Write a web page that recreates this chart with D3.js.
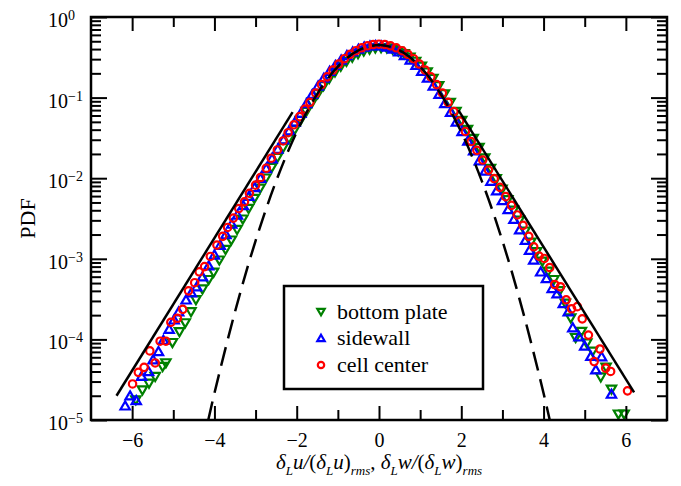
<!DOCTYPE html>
<html>
<head>
<meta charset="utf-8">
<script src="https://cdn.jsdelivr.net/npm/d3@7"></script>
<style>
  html, body { margin: 0; padding: 0; background: #fff; }
  svg text { font-family: "Liberation Serif", serif; }
</style>
</head>
<body>
<svg id="chart" width="681" height="486"></svg>
<script>
// PDF of longitudinal velocity increments, three measuring positions

// bottom plate (green, down triangles)
const bottomX = [-5.91, -5.75, -5.59, -5.44, -5.26, -5.18, -5.02, -4.85, -4.71, -4.57, -4.45, -4.29, -4.14, -4.02, -3.88, -3.73,
  -3.59, -3.45, -3.31, -3.17, -3.03, -2.89, -2.75, -2.61, -2.47, -2.33, -2.19, -2.05, -1.91, -1.77,
  -1.63, -1.49, -1.35, -1.21, -1.07, -0.93, -0.79, -0.65, -0.51, -0.37, -0.23, -0.09, 0.05,
  0.19, 0.33, 0.47, 0.61, 0.75, 0.89, 1.03, 1.17, 1.31, 1.45, 1.59, 1.73,
  1.87, 2.01, 2.15, 2.29, 2.43, 2.57, 2.71, 2.85, 2.99, 3.13, 3.27, 3.41, 3.55, 3.69, 3.83, 3.97,
  4.11, 4.25, 4.39, 4.53, 4.66, 4.78, 4.92, 5.05, 5.19, 5.39, 5.52, 5.65, 5.82, 5.96];
const bottomY = [1.77e-5, 2.35e-5, 2.85e-5, 3.45e-5, 4.6e-5, 5.1e-5, 9.1e-5, 1.24e-4, 1.6e-4, 2.2e-4, 3.1e-4, 4.2e-4, 5.5e-4, 6.8e-4, 9.6e-4, 1.3e-3,
  0.0017, 0.0023, 0.0031, 0.0042, 0.0056, 0.0075, 0.0100, 0.0135, 0.018, 0.024, 0.031, 0.040, 0.052, 0.067,
  0.0866, 0.111, 0.140, 0.172, 0.207, 0.244, 0.281, 0.316, 0.349, 0.376, 0.397, 0.411, 0.415,
  0.411, 0.397, 0.376, 0.349, 0.316, 0.281, 0.244, 0.207, 0.172, 0.140, 0.111, 0.0866,
  0.067, 0.052, 0.040, 0.031, 0.024, 0.0178, 0.0132, 0.0098, 0.0073, 0.0054, 0.0040, 0.0030, 0.0022, 0.0016, 0.00122, 9.3e-4,
  7.0e-4, 5.5e-4, 4.0e-4, 2.8e-4, 1.84e-4, 1.05e-4, 1.25e-4, 9.0e-5, 7.1e-5, 3.4e-5, 4.5e-5, 2.4e-5, 1.18e-5, 1.18e-5];

// sidewall (blue, up triangles)
const sideX = [-6.17, -6.05, -5.90, -5.77, -5.60, -5.49, -5.36, -5.24, -5.10, -4.98, -4.87, -4.69, -4.56, -4.43, -4.29,
  -4.14, -4.00, -3.86, -3.72, -3.58, -3.44, -3.30, -3.16, -3.02, -2.88, -2.74, -2.60, -2.46, -2.32, -2.18, -2.04, -1.90,
  -1.76, -1.62, -1.48, -1.34, -1.20, -1.06, -0.92, -0.78, -0.64, -0.50, -0.36, -0.22, -0.08,
  0.06, 0.20, 0.34, 0.48, 0.62, 0.76, 0.90, 1.04, 1.18, 1.32, 1.46, 1.60,
  1.74, 1.88, 2.02, 2.16, 2.30, 2.44, 2.58, 2.72, 2.86, 3.00, 3.14, 3.28, 3.42, 3.56, 3.66,
  3.76, 3.93, 4.07, 4.21, 4.33, 4.48, 4.60, 4.71, 4.86, 5.00, 5.15, 5.27, 5.41, 5.65];
const sideY = [1.5e-5, 2.0e-5, 1.75e-5, 3.5e-5, 4.0e-5, 5.6e-5, 7.1e-5, 9.8e-5, 1.34e-4, 1.75e-4, 2.2e-4, 3.1e-4, 3.8e-4, 4.5e-4, 6.0e-4,
  8.2e-4, 0.00112, 0.00148, 0.0020, 0.0027, 0.0035, 0.0046, 0.0060, 0.0077, 0.0100, 0.0132, 0.0175, 0.023, 0.030, 0.039, 0.050, 0.064,
  0.0846, 0.110, 0.140, 0.175, 0.213, 0.252, 0.294, 0.334, 0.370, 0.401, 0.425, 0.440, 0.445,
  0.440, 0.425, 0.401, 0.370, 0.334, 0.294, 0.252, 0.213, 0.175, 0.140, 0.110, 0.0846,
  0.066, 0.050, 0.038, 0.029, 0.022, 0.0165, 0.0123, 0.0092, 0.0070, 0.0053, 0.0041, 0.0031, 0.0023, 0.0017, 0.00128,
  9.7e-4, 6.9e-4, 5.7e-4, 4.3e-4, 3.7e-4, 2.8e-4, 2.2e-4, 1.4e-4, 1.08e-4, 8.3e-5, 6.2e-5, 4.2e-5, 6.1e-5, 2.1e-5];

// cell center (red, circles)
const centerX = [-5.99, -5.85, -5.71, -5.57, -5.44, -5.32, -5.18, -5.06, -4.90, -4.77, -4.63, -4.48, -4.37, -4.24,
  -4.10, -3.94, -3.80, -3.68, -3.54, -3.41, -3.27, -3.15, -3.00, -2.88, -2.74, -2.62, -2.47, -2.33, -2.21, -2.07, -1.93, -1.80,
  -1.68, -1.54, -1.40, -1.26, -1.12, -0.98, -0.84, -0.70, -0.56, -0.42, -0.28, -0.14, 0,
  0.14, 0.28, 0.42, 0.56, 0.70, 0.84, 0.98, 1.12, 1.26, 1.40, 1.54, 1.68,
  1.82, 1.96, 2.10, 2.24, 2.38, 2.52, 2.66, 2.80, 2.94, 3.08, 3.22, 3.36, 3.50, 3.64, 3.76,
  3.89, 4.02, 4.15, 4.27, 4.41, 4.55, 4.68, 4.82, 4.94, 5.09, 5.23, 5.37, 5.51, 5.63, 6.04];
const centerY = [2.8e-5, 3.9e-5, 4.5e-5, 7.2e-5, 5.1e-5, 9.5e-5, 9.5e-5, 1.63e-4, 1.83e-4, 2.36e-4, 4.0e-4, 5.05e-4, 6.9e-4, 8.0e-4,
  0.00107, 0.00148, 0.0019, 0.00245, 0.0032, 0.0042, 0.0051, 0.0065, 0.0082, 0.0102, 0.0133, 0.0177, 0.0224, 0.029, 0.0367, 0.046, 0.058, 0.072,
  0.0875, 0.114, 0.145, 0.181, 0.220, 0.261, 0.304, 0.345, 0.382, 0.415, 0.439, 0.455, 0.46,
  0.455, 0.439, 0.415, 0.382, 0.345, 0.304, 0.261, 0.220, 0.181, 0.145, 0.114, 0.0875,
  0.067, 0.051, 0.038, 0.0285, 0.0222, 0.0168, 0.0126, 0.0099, 0.0077, 0.0059, 0.0046, 0.0035, 0.0026, 0.0019, 0.00141,
  0.00108, 0.00101, 7.8e-4, 4.8e-4, 4.5e-4, 3.1e-4, 2.4e-4, 2.55e-4, 1.8e-4, 1.13e-4, 5.3e-5, 7.6e-5, 4.4e-5, 4.0e-5, 2.3e-5];

// Gaussian reference (dashed)
const gaussX = [-4.15, -4.0, -3.5, -3.0, -2.5, -2.0, -1.5, -1.0, -0.5, 0, 0.5, 1.0, 1.5, 2.0, 2.5, 3.0, 3.5, 4.0, 4.15];
const gaussY = [1.0e-5, 2.15e-5, 2.2e-4, 1.67e-3, 9.2e-3, 0.0374, 0.111, 0.242, 0.385, 0.45, 0.385, 0.242, 0.111, 0.0374, 9.2e-3, 1.67e-3, 2.2e-4, 2.15e-5, 1.0e-5];

// exponential tails (solid)
const tailLeftX = [-6.38, -2.1];
const tailLeftY = [2.0e-5, 0.066];
const tailRightX = [1.93, 6.2];
const tailRightY = [0.070, 2.2e-5];

// axes
const xTickValues = [-6, -4, -2, 0, 2, 4, 6];
const xTickLabels = ["\u22126", "\u22124", "\u22122", "0", "2", "4", "6"];
const xMinorValues = [-5, -3, -1, 1, 3, 5];
const yTickValues = [1e-5, 1e-4, 1e-3, 1e-2, 1e-1, 1];
const yTickExps = ["\u22125", "\u22124", "\u22123", "\u22122", "\u22121", "0"];

const seriesNames = ["bottom plate", "sidewall", "cell center"];
const seriesColors = ["#008000", "#0000ff", "#ff0000"];
const FONT = "Liberation Serif";

const svg = d3.select("#chart");
const margin = { top: 17, right: 14, bottom: 66, left: 91 };
const width = +svg.attr("width") - margin.left - margin.right;
const height = +svg.attr("height") - margin.top - margin.bottom;
const g = svg.append("g").attr("transform", `translate(${margin.left},${margin.top})`);

const x = d3.scaleLinear().domain([-7, 7]).range([0, width]);
const y = d3.scaleLog().domain([1e-5, 1]).range([height, 0]);
const yMinor = y.ticks().filter(v => !yTickValues.some(t => Math.abs(t - v) / t < 1e-6));

// markers
const zip = (xs, ys) => xs.map((v, i) => [v, ys[i]]);
const triUp = d3.symbol(d3.symbolTriangle, 38)();
const tri = (sel, down) => sel.append("path")
  .attr("d", triUp)
  .attr("transform", d => `translate(${x(d[0])},${y(d[1]) + (down ? -1 : 1)})${down ? " rotate(180)" : ""}`);

const gBottom = g.append("g").attr("fill", "none").attr("stroke", seriesColors[0]).attr("stroke-width", 2.2);
gBottom.selectAll("path").data(zip(bottomX, bottomY)).enter().call(s => tri(s, true));

const gSide = g.append("g").attr("fill", "none").attr("stroke", seriesColors[1]).attr("stroke-width", 2.2);
gSide.selectAll("path").data(zip(sideX, sideY)).enter().call(s => tri(s, false));

g.append("g").attr("fill", "none").attr("stroke", seriesColors[2]).attr("stroke-width", 2.2)
  .selectAll("circle").data(zip(centerX, centerY)).enter().append("circle")
  .attr("cx", d => x(d[0])).attr("cy", d => y(d[1])).attr("r", 3.7);

// reference lines
const line = d3.line().x(d => x(d[0])).y(d => y(d[1]));
g.append("defs").append("clipPath").attr("id", "plotClip")
  .append("rect").attr("width", width).attr("height", height);

g.append("path").datum(zip(gaussX, gaussY))
  .attr("clip-path", "url(#plotClip)")
  .attr("fill", "none").attr("stroke", "#000").attr("stroke-width", 2.5)
  .attr("stroke-dasharray", "19,9")
  .attr("d", line.curve(d3.curveCatmullRom));

[zip(tailLeftX, tailLeftY), zip(tailRightX, tailRightY)].forEach(t => {
  g.append("path").datum(t)
    .attr("fill", "none").attr("stroke", "#000").attr("stroke-width", 2.5)
    .attr("d", d3.line().x(d => x(d[0])).y(d => y(d[1])));
});

// axes
function styleAxis(sel) {
  sel.select(".domain").remove();
  sel.selectAll(".tick line").attr("stroke", "#000").attr("stroke-width", 2);
  sel.attr("font-family", FONT).attr("font-size", 20);
}

g.append("g").attr("transform", `translate(0,${height})`)
  .call(d3.axisBottom(x).tickValues(xTickValues).tickFormat((d, i) => xTickLabels[i])
    .tickSizeInner(-14).tickSizeOuter(0).tickPadding(13))
  .call(styleAxis)
  .selectAll("text").attr("fill", "#000").attr("font-family", FONT);
g.append("g").attr("transform", `translate(0,${height})`)
  .call(d3.axisBottom(x).tickValues(xMinorValues).tickFormat("").tickSize(-10)).call(styleAxis);
g.append("g")
  .call(d3.axisTop(x).tickValues(xTickValues).tickFormat("").tickSize(-14)).call(styleAxis);
g.append("g")
  .call(d3.axisTop(x).tickValues(xMinorValues).tickFormat("").tickSize(-10)).call(styleAxis);

g.append("g")
  .call(d3.axisLeft(y).tickValues(yTickValues).tickSize(-16))
  .call(styleAxis)
  .selectAll("text").each(function(d, i) {
    const t = d3.select(this);
    t.text(null).attr("x", -43).attr("y", 9.5).attr("dy", null)
      .attr("text-anchor", "start").attr("fill", "#000").attr("font-family", FONT);
    t.append("tspan").text("10");
    t.append("tspan").attr("dy", -7).attr("font-size", 14).text(yTickExps[i]);
  });
g.append("g")
  .call(d3.axisLeft(y).tickValues(yMinor).tickFormat("").tickSize(-10)).call(styleAxis);
g.append("g").attr("transform", `translate(${width},0)`)
  .call(d3.axisRight(y).tickValues(yTickValues).tickFormat("").tickSize(-16)).call(styleAxis);
g.append("g").attr("transform", `translate(${width},0)`)
  .call(d3.axisRight(y).tickValues(yMinor).tickFormat("").tickSize(-10)).call(styleAxis);

// frame
g.append("rect").attr("width", width).attr("height", height)
  .attr("fill", "none").attr("stroke", "#000").attr("stroke-width", 2.5);

// axis titles
svg.append("text")
  .attr("transform", `translate(27,${margin.top + height / 2}) rotate(-90)`)
  .attr("text-anchor", "middle").attr("dy", "0.35em")
  .attr("font-family", FONT).attr("font-size", 22).text("PDF");

const xl = svg.append("text")
  .attr("x", margin.left + width / 2).attr("y", 469)
  .attr("text-anchor", "middle").attr("font-family", FONT).attr("font-size", 21);
function deltaL(v) {
  xl.append("tspan").attr("font-style", "italic").text("\u03b4");
  xl.append("tspan").attr("font-style", "italic").attr("font-size", 13).attr("dy", 6).text("L");
  xl.append("tspan").attr("font-style", "italic").attr("dy", -6).text(v);
}
deltaL("u");
xl.append("tspan").attr("font-style", "italic").text("/");
xl.append("tspan").text("(");
deltaL("u");
xl.append("tspan").text(")");
xl.append("tspan").attr("font-style", "italic").attr("font-size", 13).attr("dy", 6).text("rms");
xl.append("tspan").attr("dy", -6).text(", ");
deltaL("w");
xl.append("tspan").attr("font-style", "italic").text("/");
xl.append("tspan").text("(");
deltaL("w");
xl.append("tspan").text(")");
xl.append("tspan").attr("font-style", "italic").attr("font-size", 13).attr("dy", 6).text("rms");

// legend
const lg = svg.append("g").attr("transform", "translate(284,286)");
lg.append("rect").attr("width", 199).attr("height", 103)
  .attr("fill", "#fff").attr("stroke", "#000").attr("stroke-width", 2.5);
const rowY = [26, 52, 79];
const legTri = d3.symbol(d3.symbolTriangle, 24)();
lg.append("path").attr("d", legTri).attr("transform", `translate(37,${rowY[0] - 1}) rotate(180)`)
  .attr("fill", "none").attr("stroke", seriesColors[0]).attr("stroke-width", 2.2);
lg.append("path").attr("d", legTri).attr("transform", `translate(37,${rowY[1] + 1})`)
  .attr("fill", "none").attr("stroke", seriesColors[1]).attr("stroke-width", 2.2);
lg.append("circle").attr("cx", 37).attr("cy", rowY[2]).attr("r", 3.2)
  .attr("fill", "none").attr("stroke", seriesColors[2]).attr("stroke-width", 2.2);
lg.selectAll("text.leg").data(seriesNames).enter().append("text")
  .attr("class", "leg")
  .attr("x", 53).attr("y", (d, i) => rowY[i]).attr("dy", "0.32em")
  .attr("font-family", FONT).attr("font-size", 22).text(d => d);
</script>
</body>
</html>
